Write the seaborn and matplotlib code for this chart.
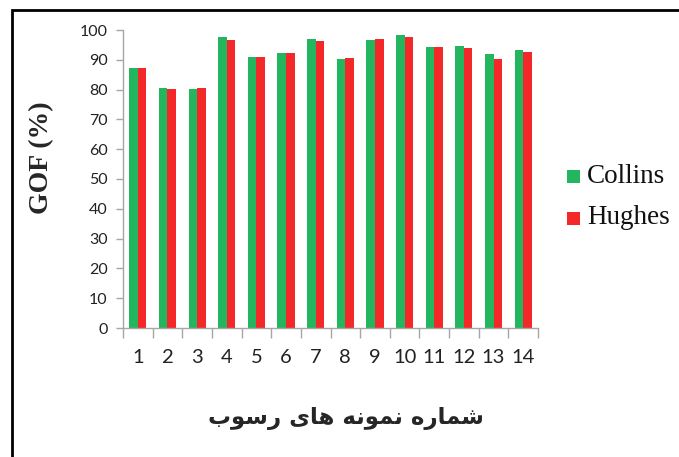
import matplotlib
matplotlib.use("Agg")
import matplotlib.pyplot as plt
import seaborn as sns
import pandas as pd
from matplotlib.patches import Rectangle
from matplotlib.ticker import FixedLocator

samples = [str(i) for i in range(1, 15)]
collins = [87.3, 80.6, 80.1, 97.7, 90.9, 92.4, 97.1, 90.3, 96.8, 98.2, 94.3, 94.6, 91.8, 93.2]
hughes = [87.3, 80.3, 80.4, 96.5, 90.9, 92.2, 96.3, 90.7, 97.1, 97.7, 94.3, 94.0, 90.4, 92.5]
series_names = ["Collins", "Hughes"]
y_ticks = list(range(0, 101, 10))
y_label = "GOF (%)"
# "شماره نمونه های رسوب" written with Arabic presentation forms in visual order
x_label_logical = ("\uFEB7\uFEE4\uFE8E\uFEAD\uFEE9" + " " +
                   "\uFEE7\uFEE4\uFEEE\uFEE7\uFEEA" + " " +
                   "\uFEEB\uFE8E\uFEEF" + " " +
                   "\uFEAD\uFEB3\uFEEE\uFE8F")
x_label = x_label_logical[::-1]

df = pd.DataFrame({
    "sample": samples * 2,
    "value": collins + hughes,
    "method": [series_names[0]] * len(samples) + [series_names[1]] * len(samples),
})

sns.set_theme(style="white")
fig = plt.figure(figsize=(6.79, 4.57), dpi=100)
ax = fig.add_axes([123 / 679, 1 - 328 / 457, (538 - 123) / 679, (328 - 30) / 457])

palette = {"Collins": "#24b65e", "Hughes": "#f42828"}
sns.barplot(data=df, x="sample", y="value", hue="method", palette=palette,
            width=0.58, ax=ax, saturation=1, legend=False, linewidth=0)

ax.set_ylim(0, 100)
ax.set_xlim(-0.5, 13.5)
ax.set_yticks(y_ticks)
ax.set_yticklabels([str(t) for t in y_ticks], fontsize=11.5, family="Lato", color="#222222")
ax.set_xticks(range(len(samples)))
ax.set_xticklabels(samples, fontsize=14.5, family="Lato", color="#222222")
ax.xaxis.set_minor_locator(FixedLocator([i - 0.5 for i in range(len(samples) + 1)]))
ax.tick_params(axis="x", which="major", length=0, pad=15)
ax.tick_params(axis="x", which="minor", length=7, color="#a6a6a6", width=1, direction="out", bottom=True)
ax.tick_params(axis="y", which="major", length=5, color="#a6a6a6", width=1, direction="out", left=True, pad=6)
for side in ["top", "right"]:
    ax.spines[side].set_visible(False)
for side in ["left", "bottom"]:
    ax.spines[side].set_color("#a6a6a6")
    ax.spines[side].set_linewidth(1)
ax.set_xlabel("")
ax.set_ylabel("")

fig.text(42 / 679, 1 - 158 / 457, y_label, rotation=90, ha="center", va="center",
         fontsize=20, fontweight="bold", family="Liberation Serif")
fig.text(346 / 679, 1 - 418 / 457, x_label, ha="center", va="center",
         fontsize=16.5, fontweight="bold", family="DejaVu Sans")

# legend
for i, name in enumerate(series_names):
    yc = 1 - (177 + 41 * i) / 457
    fig.patches.append(Rectangle((567 / 679, yc - 6.5 / 457), 13 / 679, 13 / 457,
                                 transform=fig.transFigure, facecolor=palette[name],
                                 edgecolor="none"))
    fig.text(587 / 679, yc, name, ha="left", va="center", fontsize=19.5,
             family="Liberation Serif", color="#111111")

# figure frame
fig.patches.append(Rectangle((12 / 679, -0.02), 1.05, 1 - 10 / 457 + 0.02,
                             transform=fig.transFigure, fill=False,
                             edgecolor="black", linewidth=2))

fig.savefig("out.png", dpi=100)
